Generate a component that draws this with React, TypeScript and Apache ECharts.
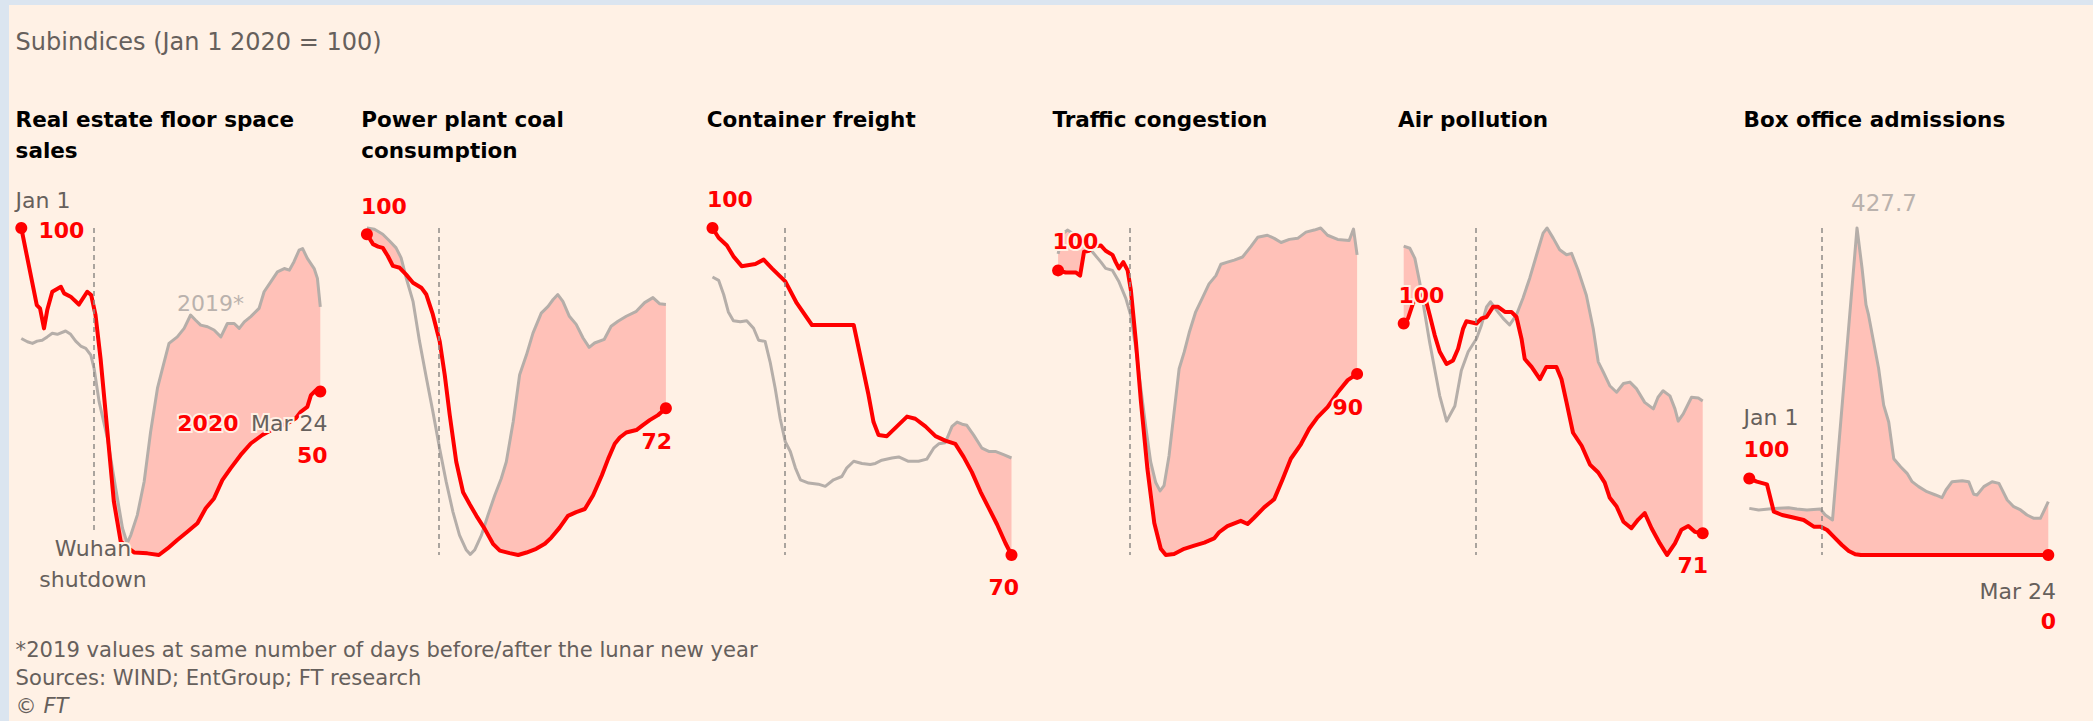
import React, { useEffect, useRef } from 'react';
import * as echarts from 'echarts';

type Pt = [number, number];

// ---------- data (x = days since Jan 1 2020, y = index, Jan 1 2020 = 100) ----------
const CHART_TITLE = 'Subindices (Jan 1 2020 = 100)';
const PANEL_TITLES: string[][] = [
  ['Real estate floor space', 'sales'],
  ['Power plant coal', 'consumption'],
  ['Container freight'],
  ['Traffic congestion'],
  ['Air pollution'],
  ['Box office admissions'],
];
const FOOTNOTES = [
  '*2019 values at same number of days before/after the lunar new year',
  'Sources: WIND; EntGroup; FT research',
];
const COPYRIGHT = '\u00a9 FT';

const DAY_FIRST = 0; // Jan 1
const DAY_LAST = 83; // Mar 24
const WUHAN_DAY = 20;

const RE_2020: Pt[] = [[0,100],[4.3,76.4],[5.2,75.4],[6.3,69.3],[7.2,74.9],[8.6,80.5],[11,82],[11.9,80],[13.7,79],[16,76.6],[18.3,80.5],[19.4,79.5],[20.6,73.4],[22,60.1],[23.9,37.7],[25.7,16.3],[27.6,4.1],[29.9,2],[31.3,0.8],[35,0.5],[38.2,0],[40.6,2],[43.3,4.6],[46.1,7.1],[48.9,9.7],[51.2,14.3],[53.5,17.3],[55.8,22.9],[58.1,26.5],[60.9,30.6],[63.7,34.1],[66.9,36.7],[70.2,38.7],[73.9,40.3],[76.2,41.8],[77.6,43.8],[79.4,45.3],[80.4,48.9],[81.8,50.4],[83,50]];
const RE_2019: Pt[] = [[0,66.2],[1.7,65.2],[3.1,64.7],[4.4,65.4],[5.8,65.7],[7.2,66.7],[8.6,67.8],[10,67.5],[12.3,68.5],[13.7,67.5],[15.1,65.4],[16.5,63.9],[17.9,63.2],[19.3,61.1],[20.2,57.1],[21.6,46.9],[23.9,35.7],[26.2,20.4],[28.1,8.2],[29.4,3.6],[30.4,6.1],[32.2,12.2],[34.1,22.4],[35.9,37.7],[37.8,51],[39.2,57.1],[41,64.7],[43.3,66.7],[45.2,69.3],[47,73.4],[48.4,71.8],[49.8,70.3],[51.7,69.8],[53.5,68.8],[55.4,66.7],[57.2,70.8],[59.1,70.8],[60.5,69.3],[61.9,71.3],[63.7,72.9],[66,75.4],[67.4,80.5],[69.3,83.6],[71.1,86.6],[73,87.6],[74.4,87.1],[75.7,89.7],[77.1,93.2],[78.1,93.7],[79.4,90.7],[81.3,87.6],[82.2,84.6],[83,75.9]];

const COAL_2020: Pt[] = [[0,100],[1.7,98.4],[3.1,98],[4.4,97.8],[5.8,96.5],[7.2,94.9],[9.1,94.6],[10.9,93.5],[12.8,92.2],[15.1,91.4],[16.5,90.3],[18.3,87.1],[20.2,82.8],[21.6,77.4],[23,70.9],[24.8,63.4],[26.7,58.5],[28.5,56.6],[30.4,54.7],[32.7,52.6],[35,50.2],[36.9,49.1],[39.6,48.7],[42,48.4],[44.3,48.8],[47,49.4],[49.4,50.2],[51.2,51.2],[53.5,52.8],[55.8,54.7],[58.1,55.3],[60.5,55.8],[62.8,58],[65.2,61.2],[67,63.9],[68.8,66.3],[70.2,67.3],[72,68.1],[74.8,68.5],[76.6,69.3],[78.5,70.1],[80.8,70.9],[83,72]];
const COAL_2019: Pt[] = [[0,101],[2.1,100.8],[4.4,100],[6.3,98.9],[8.1,97.8],[9.5,96.2],[10.9,93],[12.8,89.2],[14.6,82.8],[16.5,76.9],[18.3,71.5],[20.2,65.5],[22,60.2],[23.9,55.3],[25.7,51.6],[27.6,49.2],[28.7,48.5],[29.9,49.2],[31.8,51.6],[33.6,54.8],[35.5,58],[37.3,60.7],[38.7,63.4],[40.6,69.8],[42.4,77.4],[44.3,80.6],[46.1,84.1],[48.4,87.3],[50.3,88.4],[51.7,89.5],[53,90.3],[54.4,89.2],[56.2,86.8],[58.1,85.5],[60,83.3],[61.7,81.8],[63.2,82.5],[65.9,83.1],[67.8,85.2],[69.7,86],[72,86.8],[74.8,87.6],[77.1,89],[79.4,89.8],[81.3,88.8],[83,88.7]];

const FREIGHT_2020: Pt[] = [[0,100],[1.7,99.1],[4,98.4],[5.8,97.4],[8.1,96.5],[11.9,96.7],[14.2,97.1],[16.5,96.3],[20.2,95.1],[23.4,93.1],[27.6,91.1],[39.2,91.1],[41,88.3],[43.3,84.7],[44.7,82.2],[46.1,81],[48.4,80.9],[51.2,81.8],[54,82.7],[56.3,82.5],[59.1,81.8],[61.9,80.9],[64.6,80.5],[67.4,80.2],[69.7,79],[72,77.6],[74.4,75.8],[76.7,74.3],[79,72.8],[81.3,71.1],[83,70]];
const FREIGHT_2019: Pt[] = [[0,95.5],[1.7,95.2],[3.1,93.9],[4.4,92.3],[5.8,91.5],[7.7,91.4],[9.5,91.5],[11.4,90.8],[12.8,89.7],[14.6,89.6],[16,87.7],[17.4,85.3],[18.8,82.5],[20.2,80.4],[21.6,79.5],[23,78],[24.4,76.9],[26.7,76.6],[29.4,76.5],[31.3,76.3],[33.6,76.9],[35.9,77.2],[37.3,78],[39.2,78.6],[41.5,78.4],[43.8,78.3],[45.2,78.4],[47,78.7],[49.8,78.9],[51.7,79],[54.4,78.6],[57.2,78.6],[59.5,78.8],[61.4,79.8],[62.8,80.2],[64.6,80.3],[66.5,81.8],[67.9,82.2],[69.3,82],[70.6,81.9],[72.5,81],[74.8,79.8],[76.7,79.5],[78.5,79.5],[80.8,79.2],[83,78.9]];

const TRAFFIC_2020: Pt[] = [[0,100],[2.1,99.8],[4.9,99.8],[6.1,99.5],[7.2,101.8],[8.6,101.9],[10,102.3],[11.9,102.4],[13.2,101.9],[15.1,101.5],[16,100.8],[16.9,100.2],[18.1,100.8],[19.3,100],[20.2,98.1],[21.6,93.1],[23,87.3],[24.8,80.8],[26.7,75.6],[28.5,73.1],[29.9,72.5],[32.2,72.6],[35,73.1],[37.8,73.4],[40.6,73.7],[43.3,74.1],[44.7,74.7],[47,75.3],[50.7,75.8],[52.6,75.5],[54.4,76.1],[57.2,77.1],[60,77.9],[62.3,79.8],[64.6,81.8],[67.4,83.2],[69.7,84.7],[72,85.8],[74.8,86.8],[77.6,88.2],[80.4,89.4],[83,90]];
const TRAFFIC_2019: Pt[] = [[0,101.6],[1.2,103.5],[2.6,103.9],[4.4,103.5],[7.2,102.6],[9.5,101.8],[11.9,100.8],[13.2,100.2],[15.1,100],[16.9,98.9],[18.8,97.3],[20.2,95.6],[21.6,92.4],[23,88.5],[24.4,84.7],[25.7,81.5],[27.1,79.5],[28.3,78.7],[29.4,79.2],[30.8,82.1],[32.2,86.3],[33.6,90.5],[35,92.1],[36.4,94],[38.2,96],[40,97.3],[41.9,98.7],[43.8,99.5],[45.2,100.6],[47,100.8],[48.9,101],[51.2,101.3],[53.5,102.3],[55.4,103.2],[58.1,103.4],[60,103.1],[61.9,102.7],[64.2,103],[66.5,103.1],[68.8,103.7],[71.1,103.9],[72.9,104.1],[74.8,103.4],[77.6,103],[80.8,102.9],[82,104],[83,101.5]];

const AIR_2020: Pt[] = [[0,100],[1.2,100.7],[2.6,102.8],[4,103.9],[5.8,103.9],[7.2,101.2],[8.6,98.4],[10,96.1],[11.9,94.4],[13.7,94.9],[15.1,96.5],[16.5,99.3],[17.4,100.3],[20.2,100],[21.6,100.7],[23,100.9],[24.8,102.3],[26.2,102.3],[28.1,101.6],[29.9,101.6],[31.3,100.9],[32.7,97.9],[33.6,95.1],[35.5,94],[37.8,92.3],[39.6,94],[42.4,94],[43.8,92.3],[45.2,89.1],[47,84.9],[49.4,83.1],[51.7,80.5],[54,79.4],[55.8,78],[57.2,75.9],[59.1,74.7],[61,72.6],[63.2,71.7],[65.1,72.9],[66.9,73.8],[68.8,71.7],[71.1,69.6],[73.1,68],[75.3,69.6],[77.1,71.5],[79,72],[80.8,71.2],[83,71]];
const AIR_2019: Pt[] = [[0,110.7],[1.7,110.4],[3.1,109],[4.4,105.8],[5.8,101.6],[7.2,97.4],[8.6,93.7],[10,90],[11.9,86.5],[14.2,88.6],[16,93.5],[17.9,96.1],[20.2,97.9],[21.6,99.8],[23,102.3],[24.1,103],[25.7,101.9],[27.6,100.7],[29.4,99.8],[31.3,101.2],[33.1,103.5],[35,106.3],[36.9,109.5],[38.7,112.5],[39.8,113.2],[41.5,111.8],[43.3,110.2],[45.2,109.5],[46.6,109.7],[48.4,107.4],[50.7,103.9],[52.6,99.3],[54,94.7],[55.4,93.3],[57.2,91.4],[59.1,90.5],[61,91.7],[62.8,91.9],[64.6,91],[66.9,89.1],[69.3,88.2],[70.6,89.8],[72,90.7],[73.9,90],[75.3,88.2],[76.2,86.5],[77.6,87.5],[79.9,89.8],[81.8,89.7],[83,89.3]];

const BOX_2020: Pt[] = [[0,100],[2.1,95.9],[4.9,92.4],[6.8,56.7],[9.1,52.3],[11.9,49.3],[15.1,45.8],[17.9,37.1],[19.7,37.1],[21.6,32.7],[23.4,24],[25.7,13.1],[27.6,5.2],[29.4,0.9],[31,0],[83,0]];
const BOX_2019: Pt[] = [[0,61],[2.6,58.9],[5.4,60.2],[8.1,61],[10.9,61.9],[13.2,60.2],[16,58.9],[19.7,60.2],[21.1,52.3],[23.1,45.8],[29.9,427.7],[31.3,375],[32.4,327],[33.1,314],[34.5,279],[35.9,244],[37.3,196],[38.7,174],[40.1,126],[42,115.5],[43.8,106.8],[45.2,95.9],[47,89.4],[49.3,82.8],[51.7,78.5],[53.5,75],[54.6,85],[56.3,95.9],[59.1,97.2],[60.9,95.9],[62.3,79.4],[63.2,78.5],[65.1,89.4],[67.4,95.9],[69.3,93.7],[71.6,71.9],[73.4,63.2],[75.3,58.9],[77.1,52.3],[79,48],[80.8,48],[81.7,56.7],[83,69.8]];

const SERIES_2020: Pt[][] = [RE_2020, COAL_2020, FREIGHT_2020, TRAFFIC_2020, AIR_2020, BOX_2020];
const SERIES_2019: Pt[][] = [RE_2019, COAL_2019, FREIGHT_2019, TRAFFIC_2019, AIR_2019, BOX_2019];

// ---------- style ----------
const BG = '#fff1e5';
const FRAME = '#dbe5f0';
const RED = '#ff0000';
const GREY_LINE = '#b5aea9';
const PINK = '#ffc1b8';
const DASH = '#8f8a86';
const TEXT_GREY = '#66605c';
const LIGHT_GREY = '#bab2ad';
const FONT = '"DejaVu Sans", Verdana, sans-serif';

const PLOT_LEFT = 21.3;
const PLOT_STEP = 345.6;
const PLOT_TOP = 228;
const PLOT_W = 299;
const PLOT_H = 327;
const DASH_BOTTOM_GAP = [25, 0, 0, 0, 0, 0];
const MASK_PAD_DAYS = 0.5; // the background mask reaches a hair past the plot edges

type TxtOpt = {
  color?: string;
  size?: number;
  weight?: string | number;
  italic?: boolean;
  align?: 'left' | 'center' | 'right';
  halo?: boolean;
};

function txt(text: string, x: number, y: number, o: TxtOpt = {}) {
  const style: any = {
    text,
    fill: o.color || TEXT_GREY,
    fontFamily: FONT,
    fontSize: o.size || 22,
    fontWeight: o.weight || 'normal',
    fontStyle: o.italic ? 'italic' : 'normal',
    textAlign: o.align || 'left',
    textVerticalAlign: 'middle',
    verticalAlign: 'middle',
  };
  if (o.halo) {
    style.stroke = BG;
    style.lineWidth = 4;
    style.strokeFirst = true;
  }
  return { type: 'text', x, y, z: 100, silent: true, style };
}

const fmt = (v: number) => String(Math.round(v));

export default function App() {
  const ref = useRef<HTMLDivElement>(null);

  useEffect(() => {
    if (!ref.current) return;
    const chart = echarts.init(ref.current, null, { renderer: 'svg' });

    const grids: any[] = [];
    const xAxes: any[] = [];
    const yAxes: any[] = [];
    const series: any[] = [];

    SERIES_2020.forEach((red, i) => {
      const grey = SERIES_2019[i];
      const vals = [...red.map((p) => p[1]), ...grey.map((p) => p[1])];
      const yMin = Math.min(...vals);
      const yMax = Math.max(...vals);
      const span = yMax - yMin;
      grids.push({ left: PLOT_LEFT + PLOT_STEP * i, top: PLOT_TOP, width: PLOT_W, height: PLOT_H });
      xAxes.push({ type: 'value', gridIndex: i, min: DAY_FIRST, max: DAY_LAST, show: false });
      yAxes.push({ type: 'value', gridIndex: i, min: yMin, max: yMax, show: false, scale: true });
      const dashLow = yMin + (DASH_BOTTOM_GAP[i] / PLOT_H) * span;
      const last = red.length - 1;
      const mask: Pt[] = [[red[0][0] - MASK_PAD_DAYS, red[0][1]], ...red, [red[last][0] + MASK_PAD_DAYS, red[last][1]]];
      // pink area under the 2019 line
      series.push({
        type: 'line', xAxisIndex: i, yAxisIndex: i, data: grey, symbol: 'none', silent: true,
        lineStyle: { opacity: 0 }, areaStyle: { color: PINK, opacity: 1, origin: 'start' }, z: 1, clip: false,
      });
      // background-coloured area under the 2020 line -> pink remains only where 2019 > 2020
      series.push({
        type: 'line', xAxisIndex: i, yAxisIndex: i, data: mask, symbol: 'none', silent: true,
        lineStyle: { opacity: 0 }, areaStyle: { color: BG, opacity: 1, origin: yMin - span * 0.01 }, z: 2, clip: false,
      });
      // 2019 line + Wuhan shutdown marker
      series.push({
        type: 'line', xAxisIndex: i, yAxisIndex: i, data: grey, symbol: 'none', silent: true,
        lineStyle: { color: GREY_LINE, width: 3, join: 'round' }, z: 3, clip: false,
        markLine: {
          silent: true, symbol: 'none', label: { show: false },
          lineStyle: { color: DASH, width: 1.5, type: [5, 4] },
          data: [[{ coord: [WUHAN_DAY, yMax] }, { coord: [WUHAN_DAY, dashLow] }]],
        },
      });
      // 2020 line with end dots
      series.push({
        type: 'line', xAxisIndex: i, yAxisIndex: i, data: red, silent: true,
        symbol: 'circle', showSymbol: true, showAllSymbol: true,
        symbolSize: (_v: any, p: any) => (p.dataIndex === 0 || p.dataIndex === last ? 12 : 0),
        itemStyle: { color: RED },
        lineStyle: { color: RED, width: 4, cap: 'round', join: 'round' }, z: 4, clip: false,
      });
    });

    const colX = (i: number) => PLOT_LEFT + PLOT_STEP * i;
    const first = (i: number) => fmt(SERIES_2020[i][0][1]);
    const lastV = (i: number) => fmt(SERIES_2020[i][SERIES_2020[i].length - 1][1]);
    const boxPeak = Math.max(...BOX_2019.map((p) => p[1])).toFixed(1);

    const R = { color: RED, weight: 'bold' as const, halo: true };
    const G = { color: TEXT_GREY, halo: true };

    const graphics: any[] = [
      { type: 'rect', z: 100, silent: true, shape: { x: 0, y: 0, width: 2093, height: 5 }, style: { fill: FRAME } },
      { type: 'rect', z: 100, silent: true, shape: { x: 0, y: 0, width: 9, height: 721 }, style: { fill: FRAME } },
      txt(CHART_TITLE, 15.6, 42, { size: 24 }),
      txt(FOOTNOTES[0], 15.6, 649.5, { size: 21.1 }),
      txt(FOOTNOTES[1], 15.6, 677.5, { size: 21.1 }),
      txt(COPYRIGHT, 15.6, 705, { size: 21.1, italic: true }),
    ];
    PANEL_TITLES.forEach((lines, i) => {
      lines.forEach((line, j) => {
        graphics.push(txt(line, colX(i) - 5.7, 119.8 + j * 30.7, { color: '#000000', size: 21.5, weight: 'bold' }));
      });
    });

    // Panel 1
    graphics.push(txt('Jan 1', 15.6, 200, G));
    graphics.push(txt(first(0), 38.5, 230, R));
    graphics.push(txt('2019*', 177, 303.5, { color: LIGHT_GREY, halo: true }));
    graphics.push(txt('2020', 238.5, 423.5, { ...R, align: 'right' }));
    graphics.push(txt('Mar 24', 327.5, 423.5, { ...G, align: 'right' }));
    graphics.push(txt(lastV(0), 327.5, 455.5, { ...R, align: 'right' }));
    graphics.push(txt('Wuhan', 93, 548, { ...G, align: 'center' }));
    graphics.push(txt('shutdown', 93, 579.5, { ...G, align: 'center' }));
    // Panel 2
    graphics.push(txt(first(1), 361, 206.5, R));
    graphics.push(txt(lastV(1), 672, 441, { ...R, align: 'right' }));
    // Panel 3
    graphics.push(txt(first(2), 707, 199, R));
    graphics.push(txt(lastV(2), 1019, 587.5, { ...R, align: 'right' }));
    // Panel 4
    graphics.push(txt(first(3), 1052.5, 241.5, R));
    graphics.push(txt(lastV(3), 1363, 407.5, { ...R, align: 'right' }));
    // Panel 5
    graphics.push(txt(first(4), 1398.5, 295.5, R));
    graphics.push(txt(lastV(4), 1708, 565, { ...R, align: 'right' }));
    // Panel 6
    graphics.push(txt(boxPeak, 1851, 202.5, { color: LIGHT_GREY, size: 23, halo: true }));
    graphics.push(txt('Jan 1', 1743.5, 417.5, G));
    graphics.push(txt(first(5), 1743.5, 449, R));
    graphics.push(txt('Mar 24', 2056, 591.5, { ...G, align: 'right' }));
    graphics.push(txt(lastV(5), 2056, 621.5, { ...R, align: 'right' }));

    chart.setOption({
      animation: false,
      backgroundColor: BG,
      grid: grids,
      xAxis: xAxes,
      yAxis: yAxes,
      series,
      graphic: { elements: graphics },
    });

    return () => chart.dispose();
  }, []);

  return <div ref={ref} style={{ position: 'fixed', left: 0, top: 0, width: 2093, height: 721 }} />;
}
